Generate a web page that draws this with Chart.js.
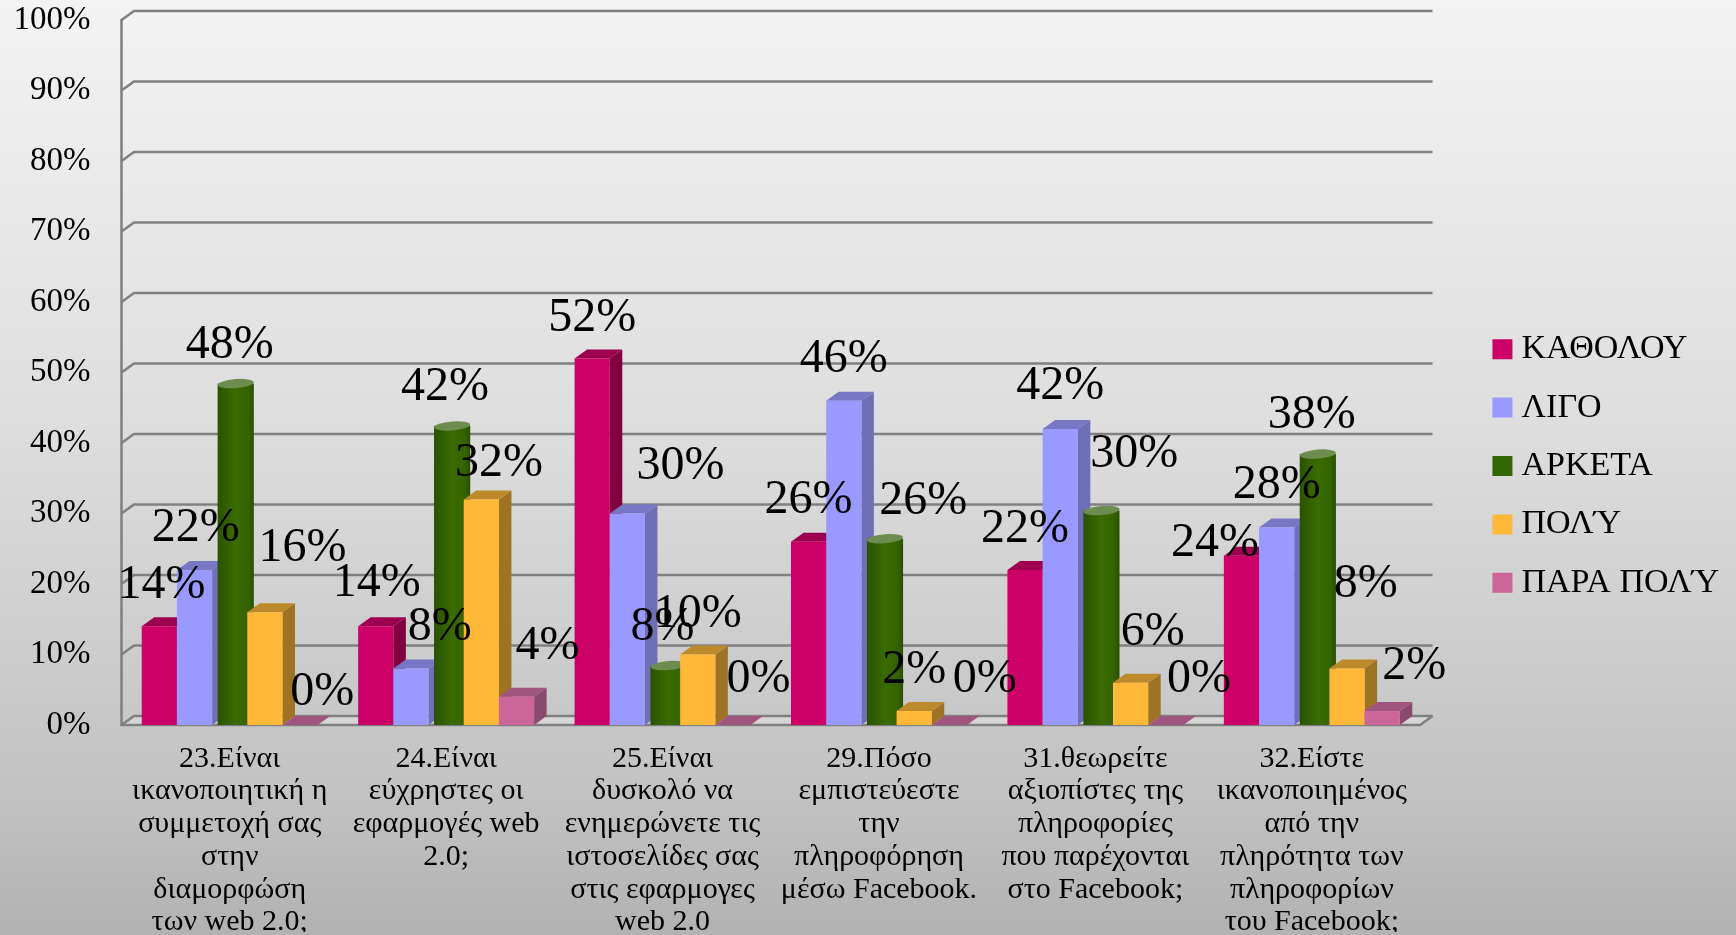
<!DOCTYPE html>
<html><head><meta charset="utf-8">
<style>html,body{margin:0;padding:0;background:#ccc}canvas{display:block}</style>
<script src="https://cdn.jsdelivr.net/npm/chart.js@4"></script>
</head><body><canvas id="c" width="1736" height="935"></canvas>
<script>
const categories = [
  ["23.Είναι","ικανοποιητική η","συμμετοχή σας","στην","διαμορφώση","των web 2.0;"],
  ["24.Είναι","εύχρηστες οι","εφαρμογές web","2.0;"],
  ["25.Είναι","δυσκολό να","ενημερώνετε τις","ιστοσελίδες σας","στις εφαρμογες","web 2.0"],
  ["29.Πόσο","εμπιστεύεστε","την","πληροφόρηση","μέσω Facebook."],
  ["31.θεωρείτε","αξιοπίστες της","πληροφορίες","που παρέχονται","στο Facebook;"],
  ["32.Είστε","ικανοποιημένος","από την","πληρότητα των","πληροφορίων","του Facebook;"]
];
const katholou = [14,14,52,26,22,24];
const ligo     = [22,8,30,46,42,28];
const arketa   = [48,42,8,26,30,38];
const poly     = [16,32,10,2,6,8];
const paraPoly = [0,4,0,0,0,2];

// label nudges relative to the top-centre of each bar [dx,dy] per series, per category
const labelNudge = [
  [[2,-41],[1,-42],[0,-40],[0,-41],[0,-40],[-24,-15]],
  [[1,-41],[26,-41],[48,-46],[0,-41],[0,-42],[0,-42]],
  [[0,-41],[-1,-41],[0,-41],[40,-40],[35,-57],[0,-41]],
  [[34,-61],[16,-36],[0,-40],[0,-40],[20,-49],[17,-80]],
  [[20,-33],[28,-49],[23,-45],[32,-45],[30,-45],[29,-44]]
];
const FONT = '"Liberation Serif"';
const DEPTH_X = 12.5, DEPTH_Y = 9;
const GRID = '#808080';
const faces = [
  {side:'#800040', top:'#9E0050'},
  {side:'#6F6FB8', top:'#7777C6'},
  {cyl:true, top:'#6E8C50'},
  {side:'#9E7324', top:'#BC8A2A'},
  {side:'#8A4A6E', top:'#A0557F'}
];

const backdrop = {
  id:'backdrop',
  beforeDraw(chart){
    const {ctx,width,height}=chart;
    const g=ctx.createLinearGradient(0,0,0,height);
    g.addColorStop(0,'#F3F3F3');g.addColorStop(.45,'#DEDEDE');g.addColorStop(.85,'#C2C2C2');g.addColorStop(1,'#B2B2B2');
    ctx.save();ctx.fillStyle=g;ctx.fillRect(0,0,width,height);ctx.restore();
  }
};
function drawWalls(chart){
  const {ctx,chartArea:a,scales:{y}}=chart;
  ctx.save();
  const y0=y.getPixelForValue(0);
  ctx.fillStyle='rgba(255,255,255,.25)';
  ctx.beginPath();ctx.moveTo(a.left,y0);ctx.lineTo(a.left+DEPTH_X,y0-DEPTH_Y);ctx.lineTo(a.right+DEPTH_X,y0-DEPTH_Y);ctx.lineTo(a.right,y0);ctx.closePath();ctx.fill();
  ctx.strokeStyle=GRID;ctx.lineWidth=2.5;
  y.ticks.forEach(t=>{
    const p=y.getPixelForValue(t.value);
    ctx.beginPath();ctx.moveTo(a.left,p);ctx.lineTo(a.left+DEPTH_X,p-DEPTH_Y);ctx.lineTo(a.right+DEPTH_X,p-DEPTH_Y);ctx.stroke();
  });
  ctx.beginPath();ctx.moveTo(a.left,a.top-1);ctx.lineTo(a.left,y0);ctx.lineTo(a.right,y0);ctx.lineTo(a.right+DEPTH_X,y0-DEPTH_Y);ctx.stroke();
  ctx.restore();
}
function drawBoxFaces(ctx,f,meta){
  ctx.save();
  meta.data.forEach(b=>{
    const l=b.x-b.width/2,r=b.x+b.width/2,t=b.y,bt=b.base;
    ctx.fillStyle=f.side;
    ctx.beginPath();ctx.moveTo(r,t);ctx.lineTo(r+DEPTH_X,t-DEPTH_Y);ctx.lineTo(r+DEPTH_X,bt-DEPTH_Y);ctx.lineTo(r,bt);ctx.closePath();ctx.fill();
    ctx.fillStyle=f.top;
    ctx.beginPath();ctx.moveTo(l,t);ctx.lineTo(l+DEPTH_X,t-DEPTH_Y);ctx.lineTo(r+DEPTH_X,t-DEPTH_Y);ctx.lineTo(r,t);ctx.closePath();ctx.fill();
  });
  ctx.restore();
}
function drawCylinders(ctx,f,meta){
  ctx.save();
  meta.data.forEach(b=>{
    const shift=5.5,l=b.x-b.width/2+shift,r=l+b.width+1,cx=(l+r)/2,t=b.y-3,bt=b.base;
    const g=ctx.createLinearGradient(l,0,r,0);
    g.addColorStop(0,'#2A5200');g.addColorStop(.5,'#3A6C00');g.addColorStop(.85,'#346300');g.addColorStop(1,'#2A5000');
    ctx.fillStyle=g;ctx.fillRect(l,t,r-l,bt-t);
    ctx.fillStyle=f.top;
    ctx.beginPath();ctx.ellipse(cx,t,(r-l)/2,4.5,-0.08,0,Math.PI*2);ctx.fill();
  });
  ctx.restore();
}
// paints left-to-right so each bar covers its left neighbour's side face
const bars3d = {
  id:'bars3d',
  beforeDatasetsDraw(chart){
    const {ctx}=chart;
    drawWalls(chart);
    chart.data.datasets.forEach((ds,i)=>{
      const meta=chart.getDatasetMeta(i),f=faces[i];
      if(f.cyl){ drawCylinders(ctx,f,meta); return; }
      drawBoxFaces(ctx,f,meta);
      meta.controller.draw();
    });
    return false;
  }
};
const valueLabels = {
  id:'valueLabels',
  afterDraw(chart){
    const {ctx}=chart;
    ctx.save();
    ctx.font='48px '+FONT;ctx.fillStyle='#000';ctx.textAlign='center';ctx.textBaseline='middle';
    chart.data.datasets.forEach((ds,i)=>{
      chart.getDatasetMeta(i).data.forEach((b,j)=>{
        const [dx,dy]=labelNudge[i][j];
        ctx.fillText(ds.data[j]+'%',b.x+dx*1.107,b.y+dy*1.107+4);
      });
    });
    ctx.restore();
  }
};
const series=[['ΚΑΘΟΛΟΥ',katholou,'#CC0066'],['ΛΙΓΟ',ligo,'#9999FF'],['ΑΡΚΕΤΑ',arketa,'#336600'],['ΠΟΛΎ',poly,'#FFB838'],['ΠΑΡΑ ΠΟΛΎ',paraPoly,'#CC6699']];
new Chart(document.getElementById('c'),{
  type:'bar',
  data:{labels:categories,datasets:series.map(([label,data,color])=>({
    label,data,backgroundColor:color,borderWidth:0,
    categoryPercentage:.813,barPercentage:1
  }))},
  plugins:[backdrop,bars3d,valueLabels],
  options:{
    responsive:false,animation:false,
    layout:{padding:{top:0,right:6.7,bottom:3,left:0}},
    plugins:{
      tooltip:{enabled:false},title:{display:false},
      legend:{position:'right',labels:{usePointStyle:true,pointStyle:'rect',boxWidth:4,boxHeight:20,padding:24.4,color:'#000',font:{family:FONT,size:34,lineHeight:1.2}}}
    },
    scales:{
      x:{grid:{display:false,drawTicks:false},border:{display:false},
         ticks:{color:'#000',padding:17.5,autoSkip:false,maxRotation:0,minRotation:0,font:{family:FONT,size:30,lineHeight:1.09}},
         afterFit(s){s.height=207;s.paddingTop=0;s.paddingBottom=0;}},
      y:{min:0,max:100,grid:{display:false,drawTicks:false},border:{display:false},
         ticks:{stepSize:10,color:'#000',padding:31,font:{family:FONT,size:33},callback:v=>v+'%'},
         afterFit(s){s.width=121.5;s.paddingTop=20;s.paddingBottom=0;}},
      gap:{type:'linear',position:'right',display:true,grid:{display:false,drawTicks:false},border:{display:false},ticks:{display:false},
         afterFit(s){s.width=56;s.paddingTop=0;}}
    }
  }
});
</script></body></html>
